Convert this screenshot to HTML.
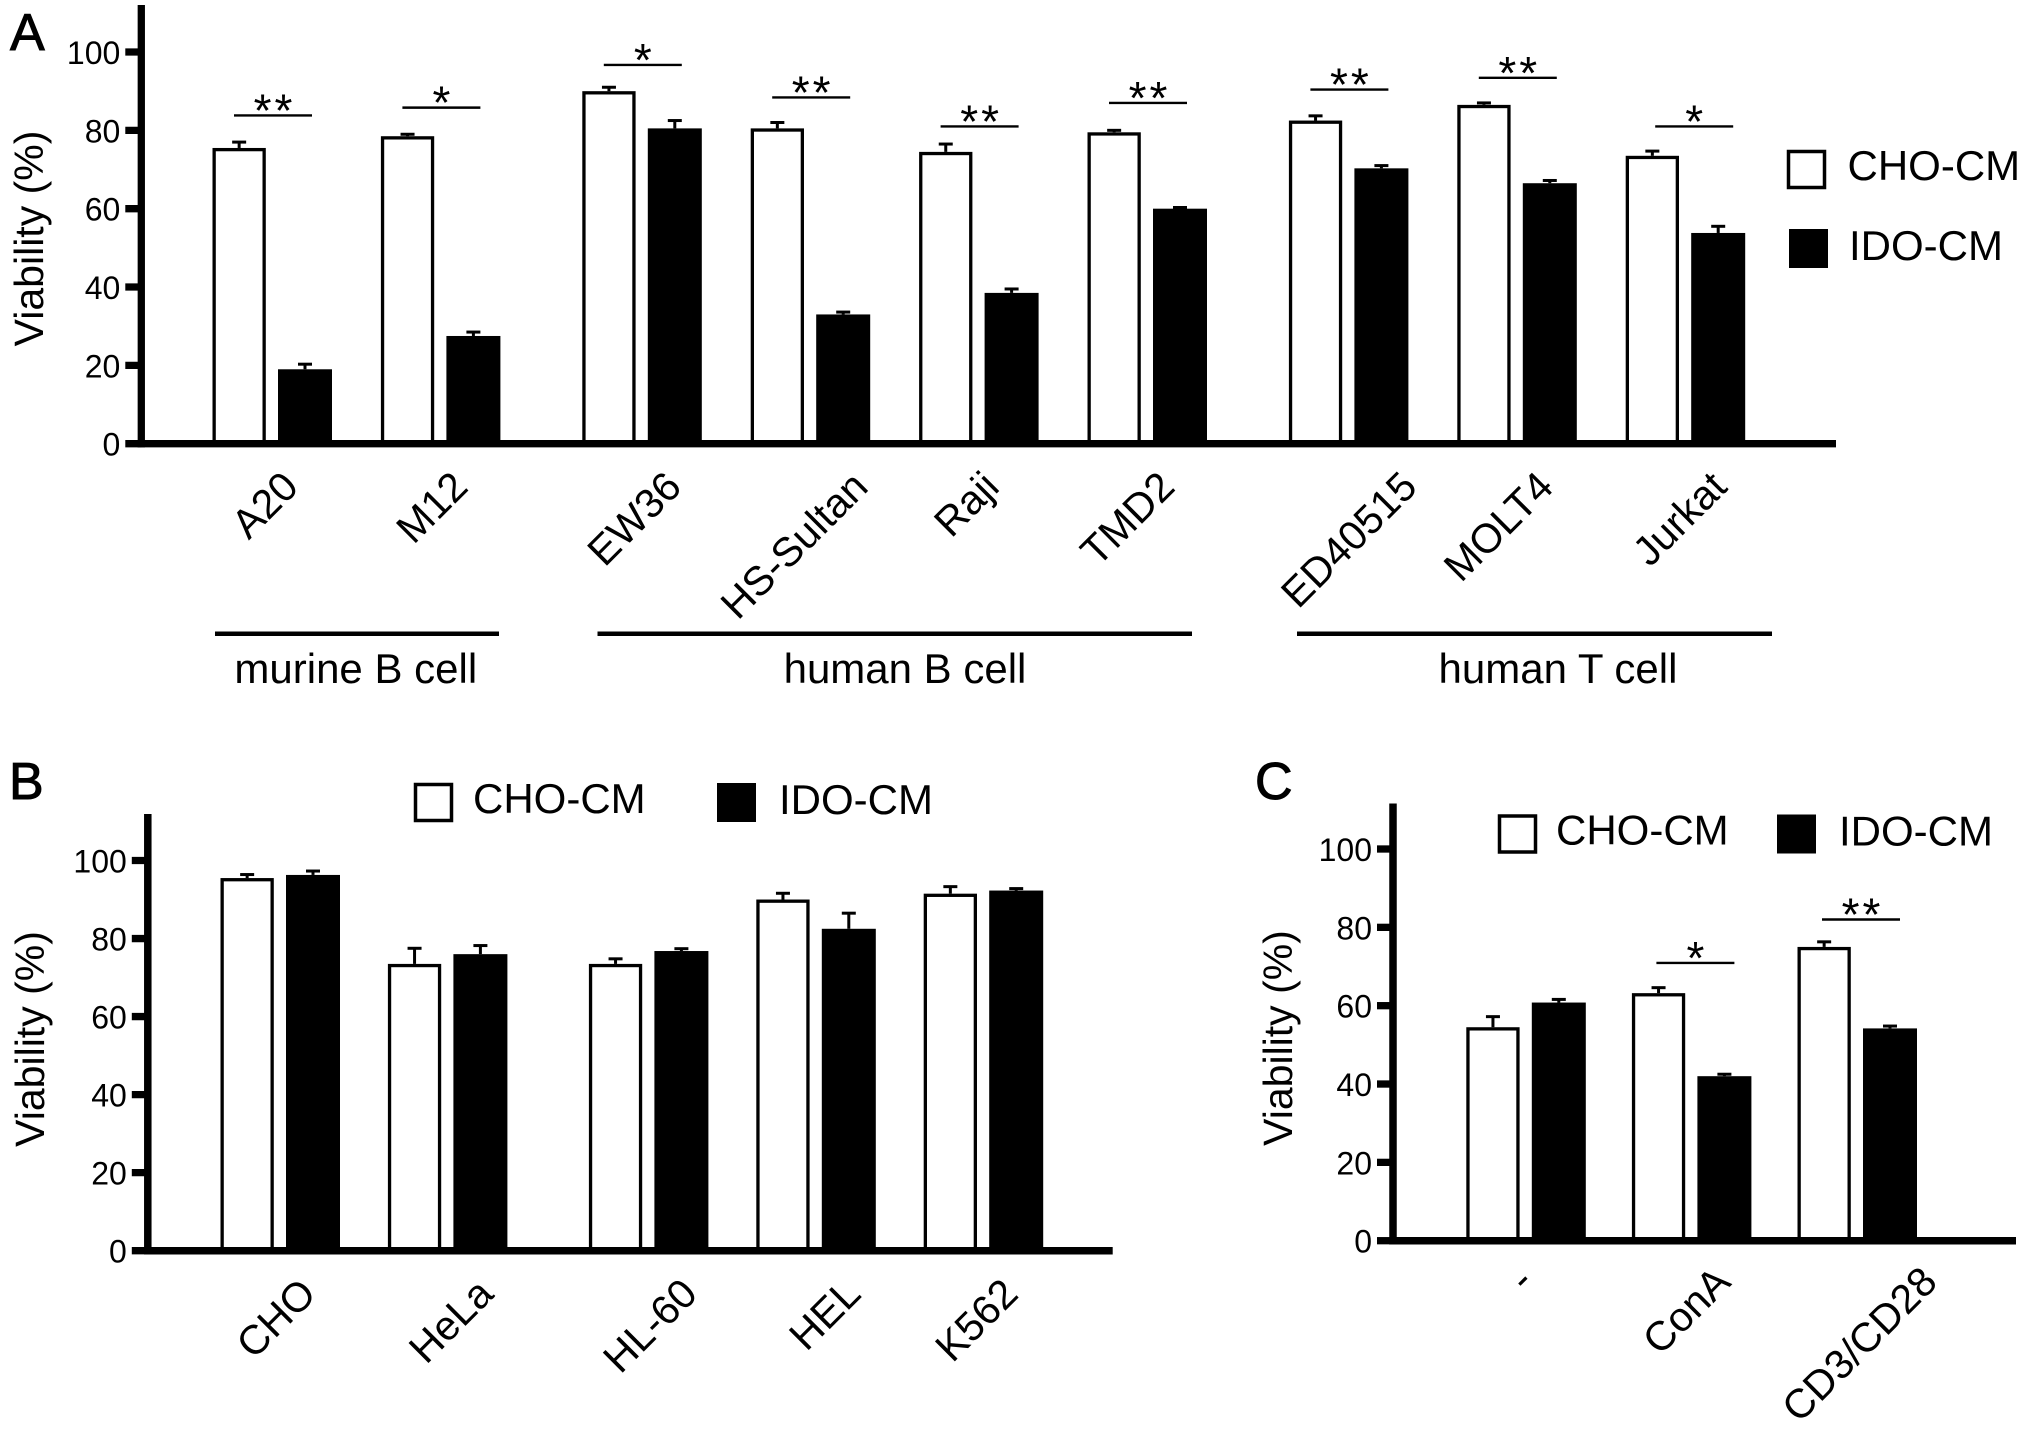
<!DOCTYPE html>
<html lang="en">
<head>
<meta charset="utf-8">
<title>Viability of cell lines in CHO-CM and IDO-CM</title>
<style>
  html, body { margin: 0; padding: 0; background: #fff; }
  svg { display: block; }
  text { font-family: "Liberation Sans", Arial, sans-serif; fill: #000; }
</style>
</head>
<body>
<svg id="figure" xmlns="http://www.w3.org/2000/svg" width="2031" height="1430" viewBox="0 0 2031 1430"></svg>
<script>
// ---- shared axis data ----
const yTickValues = [0, 20, 40, 60, 80, 100];

// ---- panel A data ----
const aCategories = ['A20', 'M12', 'EW36', 'HS-Sultan', 'Raji', 'TMD2', 'ED40515', 'MOLT4', 'Jurkat'];
const aClusters = [0, 0, 1, 1, 1, 1, 2, 2, 2];
const aCho = [75.5, 78.5, 90, 80.5, 74.5, 79.5, 82.5, 86.5, 73.5];
const aChoTop = [77, 79, 91, 82, 76.5, 80, 83.7, 87, 74.7];
const aIdo = [19, 27.5, 80.5, 33, 38.5, 60, 70.3, 66.5, 53.8];
const aIdoTop = [20.3, 28.5, 82.5, 33.6, 39.5, 60.3, 71, 67.2, 55.5];
const aStars = ['**', '*', '*', '**', '**', '**', '**', '**', '*'];
const aBracketLevels = [83.8, 85.8, 96.7, 88.4, 81, 87, 90.4, 93.4, 81];

// ---- panel B data ----
const bCategories = ['CHO', 'HeLa', 'HL-60', 'HEL', 'K562'];
const bClusters = [0, 0, 1, 1, 1];
const bCho = [95.5, 73.5, 73.5, 90, 91.5];
const bChoTop = [96.4, 77.5, 74.8, 91.6, 93.3];
const bIdo = [96.3, 76, 76.8, 82.5, 92.3];
const bIdoTop = [97.3, 78.2, 77.4, 86.5, 92.8];
const bStars = ['', '', '', '', ''];
const bBracketLevels = [0, 0, 0, 0, 0];

// ---- panel C data ----
const cCategories = ['-', 'ConA', 'CD3/CD28'];
const cClusters = [0, 0, 0];
const cCho = [54.5, 63.2, 75];
const cChoTop = [57.2, 64.6, 76.3];
const cIdo = [60.8, 42, 54.2];
const cIdoTop = [61.6, 42.5, 54.8];
const cStars = ['', '*', '**'];
const cBracketLevels = [0, 70.9, 82];

const svg = document.getElementById('figure');
const NS = 'http://www.w3.org/2000/svg';

function rect(parent, name, x, y, w, h, fill, stroke, sw) {
  const el = document.createElementNS(NS, 'rect');
  
  
  el.setAttribute('x', x);
  el.setAttribute('y', y);
  el.setAttribute('width', w);
  el.setAttribute('height', h);
  el.setAttribute('fill', fill);
  if (stroke) {
    el.setAttribute('stroke', stroke);
    el.setAttribute('stroke-width', sw);
  }
  parent.appendChild(el);
  return el;
}

function line(parent, name, x1, y1, x2, y2, sw) {
  const el = document.createElementNS(NS, 'line');
  
  
  el.setAttribute('x1', x1);
  el.setAttribute('y1', y1);
  el.setAttribute('x2', x2);
  el.setAttribute('y2', y2);
  el.setAttribute('stroke', '#000');
  el.setAttribute('stroke-width', sw);
  parent.appendChild(el);
  return el;
}

function label(parent, name, str, x, y, size, anchor, transform) {
  const el = document.createElementNS(NS, 'text');
  
  
  el.setAttribute('x', x);
  el.setAttribute('y', y);
  el.setAttribute('font-size', size);
  el.setAttribute('text-anchor', anchor || 'start');
  if (transform) el.setAttribute('transform', transform);
  el.textContent = str;
  parent.appendChild(el);
  return el;
}

function group(name) {
  const el = document.createElementNS(NS, 'g');
  
  
  svg.appendChild(el);
  return el;
}

function drawPanel(p) {
  const g = group('panel-' + p.id);
  const yScale = v => p.y0 - v * (p.y0 - p.y100) / 100;
  const xScale = i => p.x0 + i * p.step + p.clusters[i] * p.gap;

  // bars, error bars, significance
  p.categories.forEach((cat, i) => {
    const c = xScale(i);
    const key = cat.toLowerCase();
    const wx = c - 59.5, wW = 53.3, bx = c + 6, bW = 54;

    const wTop = yScale(p.cho[i]);
    const wc = wx + wW / 2;
    line(g, 'error-stem-cho-' + key, wc, yScale(p.choTop[i]), wc, wTop, 3);
    line(g, 'error-cap-cho-' + key, wc - 7, yScale(p.choTop[i]), wc + 7, yScale(p.choTop[i]), 3);
    rect(g, 'bar-cho-' + key, wx + 1.65, wTop + 1.65, wW - 3.3, p.y0 - wTop - 1.65, '#fff', '#000', 3.3);

    const bTop = yScale(p.ido[i]);
    const bc = bx + bW / 2;
    line(g, 'error-stem-ido-' + key, bc, yScale(p.idoTop[i]), bc, bTop, 3);
    line(g, 'error-cap-ido-' + key, bc - 7, yScale(p.idoTop[i]), bc + 7, yScale(p.idoTop[i]), 3);
    rect(g, 'bar-ido-' + key, bx, bTop, bW, p.y0 - bTop, '#000');

    if (p.stars[i]) {
      const by = yScale(p.levels[i]);
      const sc = c + p.bracketShift(i);
      line(g, 'significance-line-' + key, sc - 39, by, sc + 39, by, 2.4);
      const st = label(g, 'significance-stars-' + key, p.stars[i], sc + 1.5, by + 11, 46, 'middle');
      st.setAttribute('letter-spacing', '3');
    }

    // rotated category label: end point follows the text length
    const t = label(g, 'category-label-' + key, cat, 0, 0, 41, 'end');
    const len = t.getComputedTextLength();
    const ex = c + p.labelA + p.labelB * len + p.labelNudge[i];
    t.setAttribute('x', ex);
    t.setAttribute('y', p.labelY);
    t.setAttribute('transform', 'rotate(-45 ' + ex + ' ' + p.labelY + ')');
  });

  // axes
  line(g, 'y-axis', p.axisX, p.axisTop, p.axisX, p.y0 + p.axisW / 2, p.axisW);
  line(g, 'x-axis', p.axisX - p.axisW / 2, p.y0, p.axisEnd, p.y0, p.axisW);
  yTickValues.forEach(v => {
    const y = yScale(v);
    line(g, 'y-tick-' + v, p.axisX - 16, y, p.axisX, y, 7.3);
    label(g, 'y-tick-label-' + v, String(v), p.axisX - 21, y + 12, 32, 'end');
  });
  label(g, 'y-axis-title', 'Viability (%)', p.titleX, p.titleY, 41, 'middle',
    'rotate(-90 ' + p.titleX + ' ' + p.titleY + ')');

  // legend
  const lg = document.createElementNS(NS, 'g');
  
  
  g.appendChild(lg);
  const L = p.legend;
  rect(lg, 'legend-swatch-cho', L.cx + 1.5, L.cy + 1.5, 36, 36, '#fff', '#000', 3.5);
  label(lg, 'legend-entry-cho', 'CHO-CM', L.cx + L.ct, L.cy + 30, 42);
  rect(lg, 'legend-swatch-ido', L.ix, L.iy, 39, 39, '#000');
  label(lg, 'legend-entry-ido', 'IDO-CM', L.ix + L.it, L.iy + 31, 42);

  // panel letter
  const pl = label(g, 'panel-letter-' + p.id, p.id.toUpperCase(), p.letterX, p.letterY, 52);
  pl.setAttribute('stroke', '#000');
  pl.setAttribute('stroke-width', '1');
}

drawPanel({
  id: 'a', categories: aCategories, clusters: aClusters, cho: aCho, choTop: aChoTop, ido: aIdo, idoTop: aIdoTop,
  stars: aStars, levels: aBracketLevels, bracketShift: i => (i === 8 ? 9 : 1),
  x0: 272, step: 168.4, gap: 33, y0: 443.7, y100: 52,
  axisX: 141.3, axisTop: 5, axisW: 7.3, axisEnd: 1836,
  labelY: 489, labelA: 0, labelB: 0.32, labelNudge: [5, 4, 6, 0, 0, -6, 16, -4, 8],
  titleX: 43, titleY: 238.5,
  letterX: 10, letterY: 50,
  legend: { cx: 1787, cy: 150, ct: 60.5, ix: 1789, iy: 229, it: 60 }
});

drawPanel({
  id: 'b', categories: bCategories, clusters: bClusters, cho: bCho, choTop: bChoTop, ido: bIdo, idoTop: bIdoTop,
  stars: bStars, levels: bBracketLevels, bracketShift: i => 0,
  x0: 280, step: 167.4, gap: 33.6, y0: 1250.7, y100: 860.5,
  axisX: 147.8, axisTop: 814, axisW: 7.5, axisEnd: 1112.7,
  labelY: 1296, labelA: 45, labelB: 0, labelNudge: [-7, 3, 6, 2, -8],
  titleX: 44, titleY: 1039,
  letterX: 9, letterY: 799,
  legend: { cx: 414, cy: 783, ct: 59, ix: 717, iy: 783, it: 62 }
});

drawPanel({
  id: 'c', categories: cCategories, clusters: cClusters, cho: cCho, choTop: cChoTop, ido: cIdo, idoTop: cIdoTop,
  stars: cStars, levels: cBracketLevels, bracketShift: i => 4,
  x0: 1525.8, step: 165.6, gap: 0, y0: 1240.7, y100: 849,
  axisX: 1393, axisTop: 803.5, axisW: 7.5, axisEnd: 2016,
  labelY: 1284, labelA: -2, labelB: 0.41, labelNudge: [6, 1, 3],
  titleX: 1292, titleY: 1038,
  letterX: 1255, letterY: 799,
  legend: { cx: 1498, cy: 814.5, ct: 58, ix: 1777, iy: 814.5, it: 62 }
});

// ---- panel A cell-type groupings ----
const groupNames = ['murine B cell', 'human B cell', 'human T cell'];
const gA = group('cell-type-groups');
const rulePlacement = i => [[215, 499, 355.8], [597.5, 1192, 905], [1297, 1772, 1558]][i];
groupNames.forEach((n, i) => {
  const key = n.replace(/ /g, '-');
  const place = rulePlacement(i);
  line(gA, 'group-rule-' + key, place[0], 633.7, place[1], 633.7, 4.5);
  label(gA, 'group-label-' + key, n, place[2], 683, 42, 'middle');
});
</script>
</body>
</html>
